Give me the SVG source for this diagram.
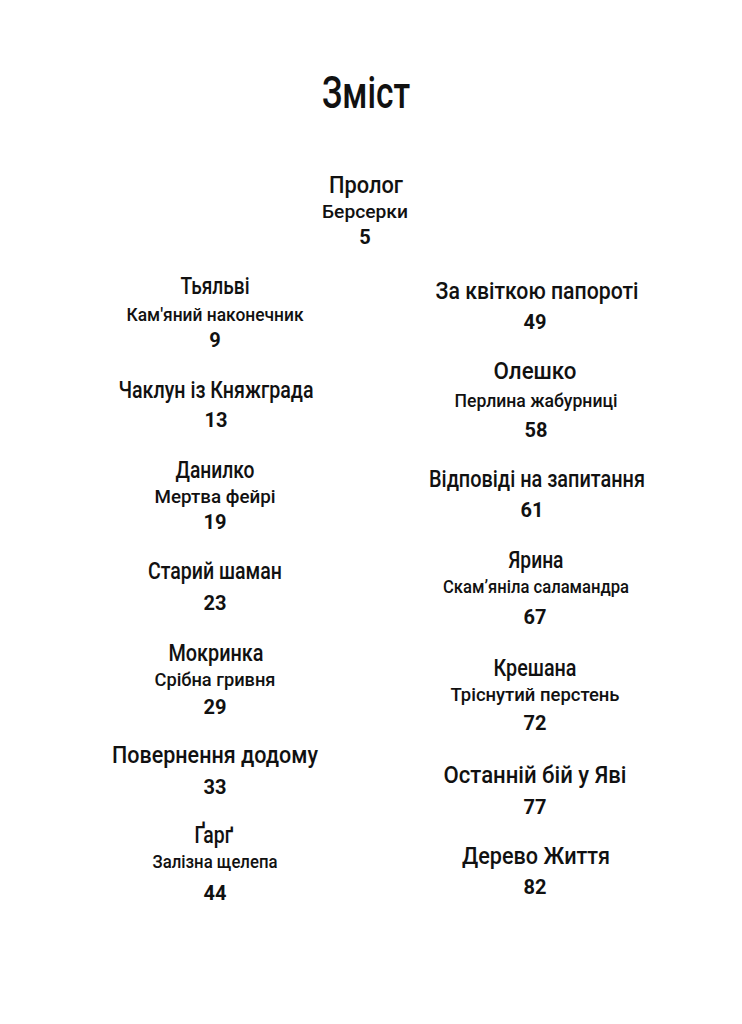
<svg xmlns="http://www.w3.org/2000/svg" width="742" height="1024" viewBox="0 0 742 1024">
<style>
text{font-family:Roboto,"Liberation Sans","DejaVu Sans",sans-serif;fill:#111;text-anchor:middle;font-weight:500}
.h{font-size:45px;font-weight:500}
.t{font-size:23px}
.s{font-size:19px}
.n{font-size:20px;font-weight:700}
</style>
<rect width="742" height="1024" fill="#fff"/>
<g id="title"><text class="h" x="366" y="108" textLength="88" lengthAdjust="spacingAndGlyphs">Зміст</text></g>
<g id="prolog">
<text class="t" x="366" y="193" textLength="74" lengthAdjust="spacingAndGlyphs">Пролог</text>
<text class="s" x="365" y="218" textLength="86" lengthAdjust="spacingAndGlyphs">Берсерки</text>
<text class="n" x="365" y="244">5</text>
</g>
<g id="left">
<g id="e1"><text class="t" x="215" y="294" textLength="69" lengthAdjust="spacingAndGlyphs">Тьяльві</text>
<text class="s" x="215" y="321" textLength="177" lengthAdjust="spacingAndGlyphs">Кам'яний наконечник</text>
<text class="n" x="215" y="347">9</text></g>
<g id="e2"><text class="t" x="216" y="398" textLength="195" lengthAdjust="spacingAndGlyphs">Чаклун із Княжграда</text>
<text class="n" x="216" y="427">13</text></g>
<g id="e3"><text class="t" x="215" y="478" textLength="79" lengthAdjust="spacingAndGlyphs">Данилко</text>
<text class="s" x="215" y="503" textLength="121" lengthAdjust="spacingAndGlyphs">Мертва фейрі</text>
<text class="n" x="215" y="529">19</text></g>
<g id="e4"><text class="t" x="215" y="579" textLength="134" lengthAdjust="spacingAndGlyphs">Старий шаман</text>
<text class="n" x="215" y="610">23</text></g>
<g id="e5"><text class="t" x="216" y="661" textLength="95" lengthAdjust="spacingAndGlyphs">Мокринка</text>
<text class="s" x="215" y="686" textLength="121" lengthAdjust="spacingAndGlyphs">Срібна гривня</text>
<text class="n" x="215" y="714">29</text></g>
<g id="e6"><text class="t" x="215" y="763" textLength="206" lengthAdjust="spacingAndGlyphs">Повернення додому</text>
<text class="n" x="215" y="794">33</text></g>
<g id="e7"><text class="t" x="214" y="843" textLength="39" lengthAdjust="spacingAndGlyphs">Ґарґ</text>
<text class="s" x="215" y="868" textLength="125" lengthAdjust="spacingAndGlyphs">Залізна щелепа</text>
<text class="n" x="215" y="900">44</text></g>
</g>
<g id="right">
<g id="e8"><text class="t" x="537" y="299" textLength="203" lengthAdjust="spacingAndGlyphs">За квіткою папороті</text>
<text class="n" x="535" y="329">49</text></g>
<g id="e9"><text class="t" x="535" y="379" textLength="83" lengthAdjust="spacingAndGlyphs">Олешко</text>
<text class="s" x="536" y="407" textLength="163" lengthAdjust="spacingAndGlyphs">Перлина жабурниці</text>
<text class="n" x="536" y="437">58</text></g>
<g id="e10"><text class="t" x="537" y="487" textLength="216" lengthAdjust="spacingAndGlyphs">Відповіді на запитання</text>
<text class="n" x="532" y="517">61</text></g>
<g id="e11"><text class="t" x="536" y="568" textLength="55" lengthAdjust="spacingAndGlyphs">Ярина</text>
<text class="s" x="536" y="593" textLength="186" lengthAdjust="spacingAndGlyphs">Скам’яніла саламандра</text>
<text class="n" x="535" y="624">67</text></g>
<g id="e12"><text class="t" x="535" y="676" textLength="83" lengthAdjust="spacingAndGlyphs">Крешана</text>
<text class="s" x="535" y="701" textLength="169" lengthAdjust="spacingAndGlyphs">Тріснутий перстень</text>
<text class="n" x="535" y="730">72</text></g>
<g id="e13"><text class="t" x="535" y="783" textLength="183" lengthAdjust="spacingAndGlyphs">Останній бій у Яві</text>
<text class="n" x="535" y="814">77</text></g>
<g id="e14"><text class="t" x="536" y="864" textLength="148" lengthAdjust="spacingAndGlyphs">Дерево Життя</text>
<text class="n" x="535" y="894">82</text></g>
</g>
<g id="connectors"/>
</svg>
